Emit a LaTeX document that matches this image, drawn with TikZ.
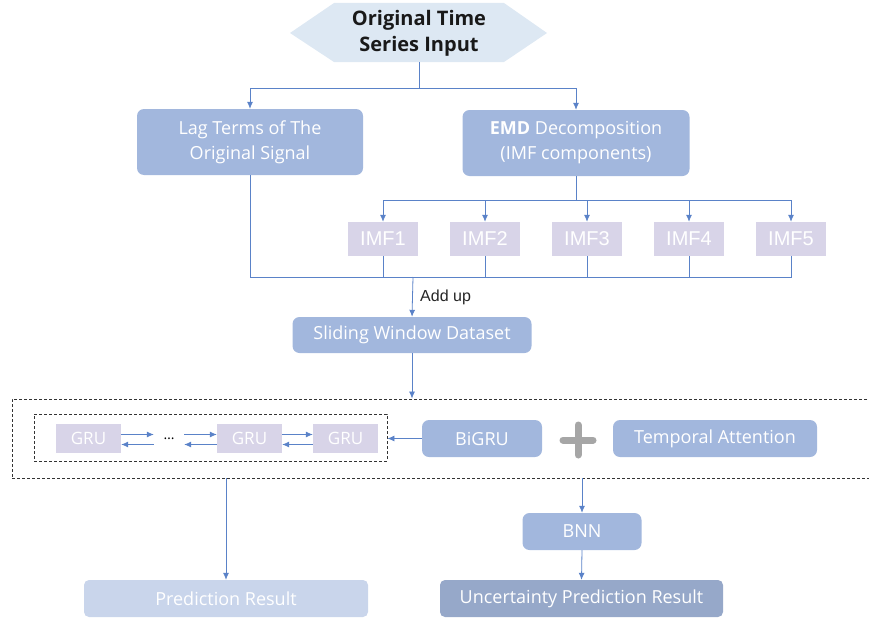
\documentclass[tikz,border=0pt]{standalone}
\usepackage{fontspec}
\setmainfont{Open Sans}
\newfontfamily\imffont{Liberation Sans}
\usetikzlibrary{arrows.meta,positioning}

\definecolor{hexfill}{HTML}{DDE8F3}
\definecolor{boxfill}{HTML}{A2B7DD}
\definecolor{imffill}{HTML}{D8D4E8}
\definecolor{predfill}{HTML}{C9D5EB}
\definecolor{uncfill}{HTML}{96A8C9}
\definecolor{linec}{HTML}{5A82C8}
\definecolor{plusc}{HTML}{A6A6A6}

\begin{document}
\begin{tikzpicture}[x=1pt,y=-1pt,
block/.style = {rectangle, rounded corners=7pt, fill=boxfill, text=white, align=center,
                inner sep=0pt, font=\fontsize{18}{25}\selectfont},
imf/.style = {rectangle, fill=imffill, text=white, minimum width=70pt, minimum height=34pt,
              inner sep=0pt, font=\imffont\fontsize{20}{24}\selectfont},
gru/.style = {rectangle, fill=imffill, text=white, minimum width=65pt, minimum height=29pt,
              inner sep=0pt, font=\fontsize{17}{20}\selectfont},
dashbox/.style = {draw=black!80, dash pattern=on 3pt off 2pt, line width=0.9pt, inner sep=0pt},
line/.style = {draw=linec, line width=0.8pt, -{Latex[length=7pt,width=6pt]}},
link/.style = {draw=linec, line width=0.8pt}]

\clip (0,0) rectangle (869,618);

% input
\fill[hexfill] (290,33) -- (334,3) -- (504,3) -- (547,33) -- (504,62) -- (334,62) -- cycle;
\node[align=center, text=black!90, font=\bfseries\fontsize{20}{26}\selectfont] (hex) at (419,33)
  {Original Time\\Series Input};

% first level
\node[block, minimum width=226pt, minimum height=66pt] (lag) at (250,142)
  {Lag Terms of The\\Original Signal};
\node[block, minimum width=227pt, minimum height=66pt] (emd) at (576,143)
  {{\bfseries EMD} Decomposition\\(IMF components)};

% imf row
\foreach \i/\x in {1/383,2/485,3/587,4/689,5/791}
  \node[imf] (imf\i) at (\x,239) {IMF\i};

\node[block, minimum width=239pt, minimum height=36pt] (slide) at (412,335) {Sliding Window Dataset};

% model part
\node[dashbox, minimum width=863pt, minimum height=79pt] (outer) at (443.5,438.5) {};
\node[dashbox, minimum width=353pt, minimum height=47pt] (grubox) at (210.5,437.5) {};
\node[gru] (gru1) at (88.5,438.5) {GRU};
\node[font=\fontsize{14}{16}\selectfont, inner sep=0pt, minimum width=30pt, minimum height=29pt]
  (dots) at (169,438.5) {\dots};
\node[gru] (gru2) at (249.5,438.5) {GRU};
\node[gru] (gru3) at (345.5,438.5) {GRU};
\node[block, minimum width=120pt, minimum height=37pt] (bigru) at (482,438.5) {BiGRU};
\coordinate (plus) at (578,440);
\draw[plusc, line width=7pt, line cap=round] (578,425) -- (578,455) (563,440) -- (593,440);
\node[block, minimum width=204pt, minimum height=37pt] (att) at (715,438.5) {Temporal Attention};

% output part
\node[block, minimum width=119pt, minimum height=37pt] (bnn) at (582,531.5) {BNN};
\node[block, fill=predfill, rounded corners=5pt, minimum width=284pt, minimum height=37pt] (pred)
  at (226,598.5) {Prediction Result};
\node[block, fill=uncfill, rounded corners=5pt, minimum width=283pt, minimum height=37pt] (unc)
  at (581.5,598.5) {Uncertainty Prediction Result};

\coordinate (split1) at (419,88);
\coordinate (split2) at (576,200);
\coordinate (merge) at (413,277);

\path[link] (hex.south |- 0,62) -- (split1);
\path[line] (split1) -| (lag.north);
\path[line] (split1) -| (emd.north);

\path[link] (emd.south) -- (split2);
\foreach \i in {1,...,5}
  \path[line] (split2) -| (imf\i.north);

\path[link] (lag.south) |- (merge);
\foreach \i in {1,...,5}
  \path[link] (imf\i.south) |- (merge);
\path[line] (merge) -- node[right, xshift=4pt, text=black!85, font=\imffont\fontsize{16}{18}\selectfont] {Add up}
  (slide.north);

\path[line] (slide.south) -- (slide.south |- outer.north);

\path[line] ([yshift=4pt]gru1.east) -- ([yshift=4pt]dots.west);
\path[line] ([yshift=-6pt]dots.west) -- ([yshift=-6pt]gru1.east);
\path[line] ([yshift=4pt]dots.east) -- ([yshift=4pt]gru2.west);
\path[line] ([yshift=-6pt]gru2.west) -- ([yshift=-6pt]dots.east);
\path[line] ([yshift=4pt]gru2.east) -- ([yshift=4pt]gru3.west);
\path[line] ([yshift=-6pt]gru3.west) -- ([yshift=-6pt]gru2.east);
\path[line] (bigru.west) -- (bigru.west -| grubox.east);

\path[line] (pred.north |- outer.south) -- (pred.north);
\path[line] (bnn.north |- outer.south) -- (bnn.north);
\path[line] (bnn.south) -- (unc.north);
\end{tikzpicture}
\end{document}
